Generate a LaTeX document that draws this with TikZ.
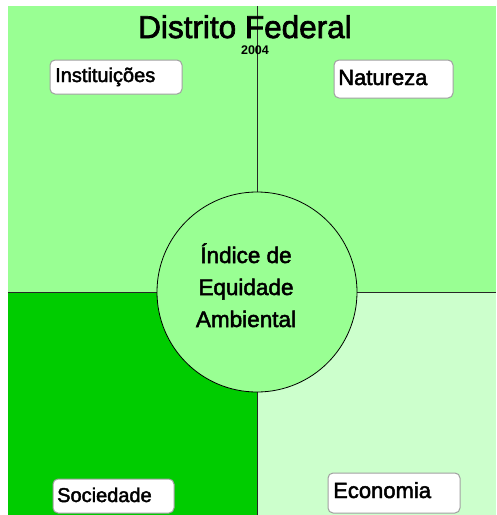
\documentclass[tikz,border=0pt]{standalone}
\usepackage{fontspec}
\setmainfont{Liberation Sans}
\newfontfamily\heavy{Liberation Sans}[FakeBold=2.2,BoldFont={Liberation Sans Bold}]
\definecolor{lightg}{RGB}{153,255,147}
\definecolor{darkg}{RGB}{0,204,0}
\definecolor{paleg}{RGB}{204,255,204}
\definecolor{boxborder}{RGB}{160,160,160}
\tikzset{
  lbl/.style={inner sep=0pt, anchor=base west},
  labelbox/.style={draw=boxborder, line width=1pt, fill=white, rounded corners=5pt, inner sep=0pt},
  axis/.style={draw=black!85, line width=0.9pt},
}
\begin{document}
\begin{tikzpicture}[x=1pt,y=-1pt]
\useasboundingbox (0,0) rectangle (497,515);
% quadrants
\fill[lightg] (8,6) rectangle (496,292);
\fill[darkg] (8,292) rectangle (257,515);
\fill[paleg] (257,292) rectangle (496,515);
% axes
\coordinate (top) at (257,6);
\coordinate (bottom) at (257,515);
\coordinate (left) at (8,292);
\coordinate (right) at (496,292);
\draw[axis] (top) -- (bottom);
\draw[axis] (left) -- (right);
% centre circle
\node[circle, draw=black, line width=0.8pt, fill=lightg, minimum size=200pt, inner sep=0pt] (centre) at (257,292) {};
\node[inner sep=0pt, align=center, font=\heavy\fontsize{22.5}{32}\selectfont, anchor=base] (idx) at (246,327) {Índice de\\Equidade\\Ambiental};
% title
\node[inner sep=0pt, anchor=base, text depth=0pt, font=\heavy\fontsize{31.5}{36}\selectfont] (title) at (245,38) {Distrito Federal};
\node[inner sep=0pt, anchor=base, text height=9.4pt, text depth=0pt, font=\fontsize{12.5}{14}\selectfont\bfseries] (year) at (255,54) {2004};
% label boxes
\node[labelbox, minimum width=132pt, minimum height=34pt] (bInst) at (116,77) {};
\node[labelbox, minimum width=119pt, minimum height=38pt] (bNat) at (393.5,79) {};
\node[labelbox, minimum width=121pt, minimum height=34pt] (bSoc) at (113.5,496) {};
\node[labelbox, minimum width=132pt, minimum height=40pt] (bEco) at (394,493) {};
\node[lbl, font=\heavy\fontsize{20}{22}\selectfont] (tInst) at (55,82) {Instituições};
\node[lbl, font=\heavy\fontsize{22}{24}\selectfont] (tNat) at (338,85) {Natureza};
\node[lbl, font=\heavy\fontsize{20}{22}\selectfont] (tSoc) at (57,502) {Sociedade};
\node[lbl, font=\heavy\fontsize{22}{24}\selectfont] (tEco) at (333,498) {Economia};
\end{tikzpicture}
\end{document}
